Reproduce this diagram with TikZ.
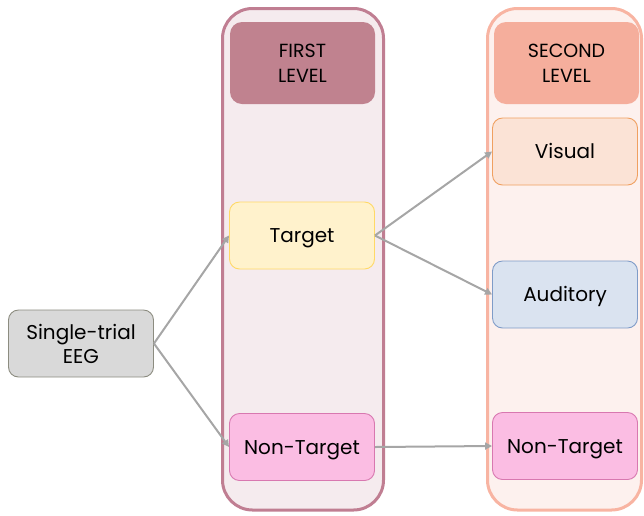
\documentclass[tikz,border=0pt]{standalone}
\usepackage{fontspec}
\setmainfont{Poppins}
\usetikzlibrary{arrows.meta}
\definecolor{colAborder}{HTML}{C07E92}
\definecolor{colAfill}{HTML}{F5EBEE}
\definecolor{colAhead}{HTML}{C0828F}
\definecolor{colBborder}{HTML}{F8B4A2}
\definecolor{colBfill}{HTML}{FDF1EE}
\definecolor{colBhead}{HTML}{F5AE9C}
\definecolor{visfill}{HTML}{FBE3D6}
\definecolor{visdraw}{HTML}{F0A060}
\definecolor{tarfill}{HTML}{FFF2CC}
\definecolor{tardraw}{HTML}{FFD966}
\definecolor{audfill}{HTML}{DAE3F0}
\definecolor{auddraw}{HTML}{7F9CC8}
\definecolor{ntfill}{HTML}{FBBDE3}
\definecolor{ntdraw}{HTML}{D878B0}
\definecolor{eegfill}{HTML}{D9D9D9}
\definecolor{eegdraw}{HTML}{8C8C80}
\definecolor{arr}{HTML}{A6A6A6}
\tikzset{
  column/.style={rounded corners=30pt, line width=3pt},
  header/.style={rounded corners=12pt, draw=none, minimum width=145pt, minimum height=82pt, align=center, font=\fontsize{19}{25}\selectfont, inner sep=0pt},
  itembox/.style={rounded corners=10pt, line width=0.9pt, minimum width=145pt, minimum height=67pt, align=center, font=\fontsize{20}{24}\selectfont, inner sep=0pt},
  oneline/.style={itembox, text height=14pt, text depth=0pt},
  conn/.style={draw=arr, line width=2pt, -{Triangle[length=7pt,width=7pt]}}
}
\begin{document}
\begin{tikzpicture}[x=1pt,y=-1pt]
\useasboundingbox (0,0) rectangle (644,515);
% columns
\draw[column, draw=colAborder, fill=colAfill] (222.5,8.5) rectangle (383.5,510);
\draw[column, draw=colBborder, fill=colBfill] (487.5,8.5) rectangle (641.5,510);
% headers
\node[header, fill=colAhead] (h1) at (302.5,63) {FIRST\\LEVEL};
\node[header, fill=colBhead] (h2) at (566.5,63) {SECOND\\LEVEL};
% boxes
\node[itembox, fill=eegfill, draw=eegdraw] (eeg) at (81,343.5) {Single-trial\\EEG};
\node[oneline, fill=tarfill, draw=tardraw] (tar) at (302,235.5) {Target};
\node[oneline, fill=ntfill, draw=ntdraw] (nt1) at (302,447) {Non-Target};
\node[oneline, fill=visfill, draw=visdraw] (vis) at (565,151.5) {Visual};
\node[oneline, fill=audfill, draw=auddraw] (aud) at (565,294.5) {Auditory};
\node[oneline, fill=ntfill, draw=ntdraw] (nt2) at (565,446) {Non-Target};
% connectors
\draw[conn] (eeg.east) -- (tar.west);
\draw[conn] (eeg.east) -- (nt1.west);
\draw[conn] (tar.east) -- (vis.west);
\draw[conn] (tar.east) -- (aud.west);
\draw[conn] (nt1.east) -- (nt2.west);
\end{tikzpicture}
\end{document}
